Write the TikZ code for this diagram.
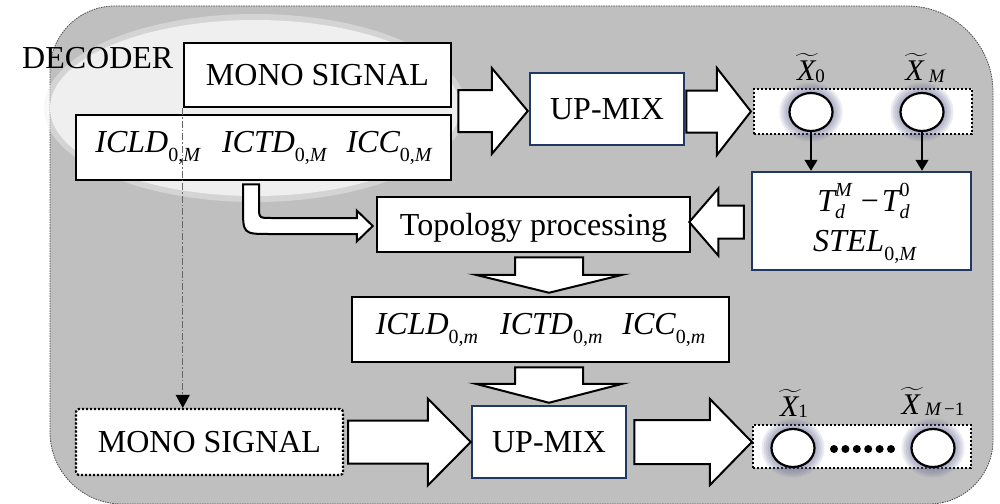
\RequirePackage{fix-cm}
\documentclass[tikz,border=0pt]{standalone}
\usepackage{graphicx}
\usepackage{fontspec}
\setmainfont{Liberation Serif}
\usetikzlibrary{arrows.meta,shapes.geometric,calc}

\definecolor{panel}{HTML}{BFBFBF}
\definecolor{haze}{HTML}{EFEFEF}
\definecolor{navy}{HTML}{1F3864}
\definecolor{halo}{HTML}{5E5E8E}

% lowered subscript for the cue names: upright index, italic bound
\newcommand{\lo}[1]{\raisebox{-9pt}{\fontsize{20}{20}\selectfont\upshape 0,\itshape #1}}
% small index set near the baseline of a channel name
\newcommand{\xsub}[1]{\raisebox{-1.5pt}{\fontsize{19}{19}\selectfont #1}}
% superscript and subscript stacked after a symbol
\newcommand{\supsub}[2]{{\fontsize{20}{20}\selectfont
  \setbox0\hbox{#1}\setbox2\hbox{#2}%
  \ifdim\wd0>\wd2 \dimen0=\wd0 \else \dimen0=\wd2 \fi
  \hbox to \dimen0{\rlap{\raise 15pt\box0}\lower 7pt\box2\hss}}}
% italic X with a wide tilde above it
\newcommand{\tX}{{\setbox0\hbox{\itshape X}%
  \setbox4\hbox{\scalebox{1.5}[2.4]{$\widetilde{\hbox to 16pt{}}$}}%
  \rlap{\hbox to \wd0{\hss\kern3pt\raise\dimexpr 27pt-\ht4\relax\box4\hss}}\box0}}

\begin{document}
\begin{tikzpicture}[x=1pt,y=-1pt,
  every node/.style={font=\fontsize{32}{36}\selectfont, inner sep=0pt},
  blk/.style={draw=black, line width=2.5pt, fill=white, rectangle},
  navybox/.style={draw=navy, line width=2.5pt, fill=white, rectangle},
  dotbox/.style={draw=black, line width=2.2pt, dash pattern=on 2.2pt off 1.8pt, fill=white, rectangle},
  fat/.style={draw=black, line width=2pt, fill=white, miter limit=10},
  circ/.style={ellipse, draw=black, line width=2.2pt, fill=white, minimum width=43pt, minimum height=38pt},
  drop/.style={line width=1.3pt, -{Triangle[length=11pt,width=13pt]}},
  lbl/.style={font=\fontsize{30}{34}\selectfont\itshape, anchor=base},
  cue/.style={font=\fontsize{32}{36}\selectfont\itshape},
]
\useasboundingbox (0,0) rectangle (1000,503);
\clip (0,0) rectangle (1000,503);

% decoder panel
\path[fill=panel, draw=black!70, line width=0.8pt, dash pattern=on 1.5pt off 1pt]
  (50,300) [rounded corners=65pt] -- (50,6) -- (600,6) [rounded corners=86pt] -- (993,6)
  -- (993,300) [rounded corners=64pt] -- (993,504) -- (600,504) [rounded corners=72pt] -- (50,504) -- cycle;

% light haze behind the input boxes
\fill[haze, opacity=0.45] (255,108) ellipse [x radius=211pt, y radius=94pt];
\fill[haze] (255,108) ellipse [x radius=205pt, y radius=88pt];

\node[anchor=base west] (dec) at (22,68) {DECODER};

% boxes
\node[blk, minimum width=267pt, minimum height=64pt] (monotop) at (317.5,75) {MONO SIGNAL};
\node[blk, cue, minimum width=375pt, minimum height=65pt] (icldtop) at (263.5,147.5)
  {ICLD\lo{M}\hspace{22pt}ICTD\lo{M}\hspace{20pt}ICC\lo{M}};
\node[navybox, minimum width=154pt, minimum height=72pt] (upmixtop) at (607,109) {UP-MIX};
\node[dotbox, minimum width=218pt, minimum height=45pt] (topdots) at (863,111.5) {};
\node[navybox, minimum width=219pt, minimum height=98pt] (tbox) at (861.5,221) {};
\node[anchor=base, cue] (tdiff) at ($(tbox.center)+(2,-10)$)
  {T\supsub{M}{d}\hspace{9pt}\textup{−}\hspace{3pt}T\supsub{\textup{0}}{d}};
\node[anchor=base, cue] (stel) at ($(tbox.center)+(3,30)$) {STEL\lo{M}};
\node[blk, minimum width=313pt, minimum height=55pt, text depth=0pt] (topo) at (533.5,224.5) {Topology processing};
\node[blk, cue, minimum width=377pt, minimum height=65pt] (icldbot) at (540.5,329.5)
  {ICLD\lo{m}\hspace{22pt}ICTD\lo{m}\hspace{20pt}ICC\lo{m}};
\node[navybox, minimum width=154pt, minimum height=72pt] (upmixbot) at (549,442) {UP-MIX};
\node[dotbox, rounded corners=3pt, minimum width=267pt, minimum height=66pt] (monobot) at (209.5,442) {MONO SIGNAL};
\node[dotbox, minimum width=218pt, minimum height=43pt] (botdots) at (862,446.5) {};

% glow around the channel circles
\foreach \cx/\cy in {811/112, 922/112, 793/448, 933/448}{
  \foreach \d in {10,8,6,4,2}{
    \fill[halo, opacity=0.12] (\cx,\cy) ellipse [x radius=21.5pt+\d pt, y radius=19.5pt+\d pt];
  }
}
\node[circ] (c0) at (811,112) {};
\node[circ] (cM) at (922,112) {};
\node[circ] (c1) at (793,448) {};
\node[circ] (cM1) at (933,448) {};
\foreach \i in {0,...,5}{
  \fill (834+11.4*\i,449) circle [radius=4pt];
}

% channel labels
\node[lbl] (lx0) at ($(c0.north)+(0,-11)$) {\tX\xsub{\upshape 0}};
\node[lbl] (lxM) at ($(cM.north)+(3,-11)$) {\tX\,\xsub{M}};
\node[lbl] (lx1) at ($(c1.north)+(1,-11.5)$) {\tX\xsub{\upshape 1}};
\node[lbl] (lxM1) at ($(cM1.north)+(0,-13.5)$) {\tX\,\xsub{M\,\upshape−1}};

% block arrows
\path ($(monotop.east)+(6,0)$) coordinate (t1) ($(upmixtop.west)+(-1,2)$) coordinate (p1);
\draw[fat] (t1 |- p1) ++(0,-21) -- ($(p1)+(-36,-21)$) -- ($(p1)+(-36,-43)$) -- (p1)
  -- ($(p1)+(-36,43)$) -- ($(p1)+(-36,21)$) -- ($(t1 |- p1)+(0,21)$) -- cycle;

\path ($(upmixtop.east)+(1,0)$) coordinate (t2) ($(topdots.west)+(-2,0)$) coordinate (p2);
\draw[fat] (t2 |- p2) ++(0,-21) -- ($(p2)+(-34,-21)$) -- ($(p2)+(-34,-43.5)$) -- (p2)
  -- ($(p2)+(-34,43.5)$) -- ($(p2)+(-34,21)$) -- ($(t2 |- p2)+(0,21)$) -- cycle;

\path ($(tbox.west)+(-7,0)$) coordinate (t3) ($(topo.east)+(-2,-2.5)$) coordinate (p3);
\draw[fat] (t3 |- p3) ++(0,-16.5) -- ($(p3)+(29,-16.5)$) -- ($(p3)+(29,-33.5)$) -- (p3)
  -- ($(p3)+(29,33.5)$) -- ($(p3)+(29,16.5)$) -- ($(t3 |- p3)+(0,16.5)$) -- cycle;

\path ($(topo.south)+(0,4)$) coordinate (t4) ($(icldbot.north)+(8.5,-3)$) coordinate (p4);
\draw[fat] (t4 -| p4) ++(-34,0) -- ($(p4)+(-34,-18)$) -- ($(p4)+(-73.5,-18)$) -- (p4)
  -- ($(p4)+(73.5,-18)$) -- ($(p4)+(34,-18)$) -- ($(t4 -| p4)+(34,0)$) -- cycle;

\path ($(icldbot.south)+(0,4)$) coordinate (t5) ($(upmixbot.north)+(0,-2)$) coordinate (p5);
\draw[fat] (t5 -| p5) ++(-34,0) -- ($(p5)+(-34,-19)$) -- ($(p5)+(-73.5,-19)$) -- (p5)
  -- ($(p5)+(73.5,-19)$) -- ($(p5)+(34,-19)$) -- ($(t5 -| p5)+(34,0)$) -- cycle;

\path ($(monobot.east)+(4,0)$) coordinate (t6) (upmixbot.west) coordinate (p6);
\draw[fat] (t6 |- p6) ++(0,-21.5) -- ($(p6)+(-43,-21.5)$) -- ($(p6)+(-43,-43.5)$) -- (p6)
  -- ($(p6)+(-43,43.5)$) -- ($(p6)+(-43,21.5)$) -- ($(t6 |- p6)+(0,21.5)$) -- cycle;

\path ($(upmixbot.east)+(7,0)$) coordinate (t7) ($(botdots.west)+(0,-4.5)$) coordinate (p7);
\draw[fat] (t7 |- p7) ++(0,-22) -- ($(p7)+(-42,-22)$) -- ($(p7)+(-42,-43)$) -- (p7)
  -- ($(p7)+(-42,43)$) -- ($(p7)+(-42,22)$) -- ($(t7 |- p7)+(0,22)$) -- cycle;

% bent arrow into the topology stage
\path ($(icldtop.south)+(-12.5,3)$) coordinate (bt) ($(topo.west)+(-3,1.5)$) coordinate (bp);
\draw[fat] ($(bt)+(-8,0)$) -- ($(bt)+(8,0)$) -- ($(bt |- bp)+(8,-20)$)
  .. controls ($(bt |- bp)+(8,-8)$) .. ($(bt |- bp)+(20,-8)$)
  -- ($(bp)+(-16,-8)$) -- ($(bp)+(-16,-15.5)$) -- (bp) -- ($(bp)+(-16,15.5)$) -- ($(bp)+(-16,8)$)
  -- ($(bt |- bp)+(19,8)$) .. controls ($(bt |- bp)+(-8,8)$) .. ($(bt |- bp)+(-8,-19)$) -- cycle;

% thin connectors
\draw[drop] (c0.south) -- (c0.south |- tbox.north);
\draw[drop] (cM.south) -- (cM.south |- tbox.north);
\draw[draw=black!60, line width=1pt, dash pattern=on 7pt off 2pt on 1.5pt off 2pt,
  -{Triangle[length=13pt,width=14pt,color=black]}]
  (monotop.south west) -- (monotop.south west |- monobot.north);
\end{tikzpicture}
\end{document}
